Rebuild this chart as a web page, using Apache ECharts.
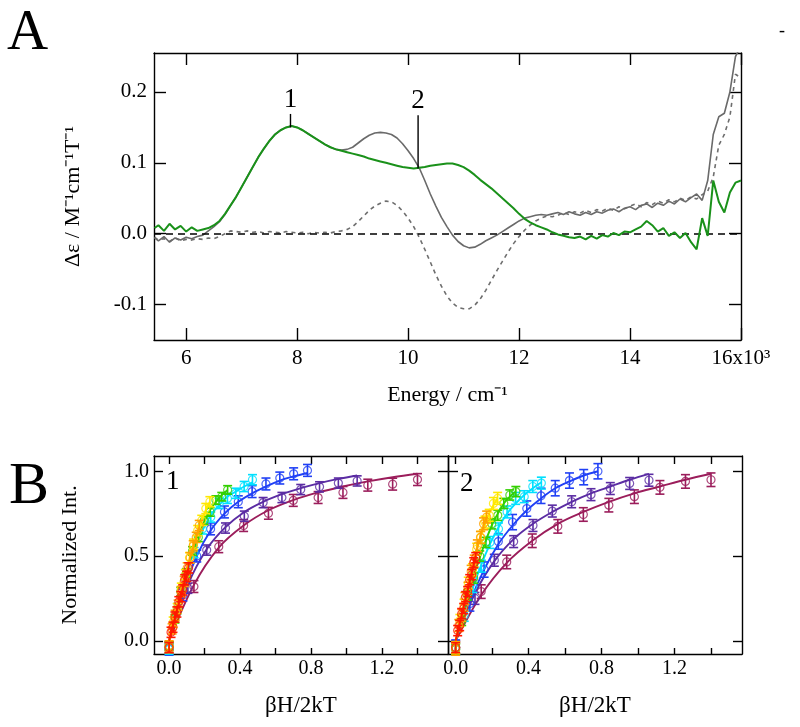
<!DOCTYPE html>
<html><head><meta charset="utf-8">
<script src="https://cdn.jsdelivr.net/npm/echarts@6/dist/echarts.min.js"></script>
<style>html,body{margin:0;padding:0;background:#fff}#c{width:800px;height:727px}</style>
</head><body><div id="c"></div>
<script>
// ---------- Panel A data (energy in 10^3 cm^-1) ----------
const energy = [5.43,5.5,5.6,5.7,5.8,5.9,6.0,6.1,6.2,6.3,6.4,6.5,6.6,6.7,6.8,6.9,7.0,7.1,7.2,7.3,7.4,7.5,7.6,7.7,7.8,7.9,8.0,8.1,8.2,8.3,8.4,8.5,8.6,8.7,8.8,8.9,9.0,9.1,9.2,9.3,9.4,9.5,9.6,9.7,9.8,9.9,10.0,10.1,10.2,10.3,10.4,10.5,10.6,10.7,10.8,10.9,11.0,11.1,11.2,11.3,11.4,11.5,11.6,11.7,11.8,11.9,12.0,12.1,12.2,12.3,12.4,12.5,12.6,12.7,12.8,12.9,13.0,13.1,13.2,13.3,13.4,13.5,13.6,13.7,13.8,13.9,14.0,14.1,14.2,14.3,14.4,14.5,14.6,14.7,14.8,14.9,15.0,15.1,15.2,15.3,15.4,15.5,15.6,15.7,15.8,15.9,16.0];
const greenMCD = [0.008,0.012,0.004,0.014,0.006,0.011,0.003,0.009,0.004,0.006,
 0.008,0.012,0.018,0.028,0.040,0.052,0.066,0.080,0.094,0.108,
 0.120,0.131,0.140,0.146,0.150,0.152,0.150,0.146,0.141,0.136,
 0.131,0.126,0.122,0.119,0.117,0.115,0.113,0.111,0.109,0.106,
 0.104,0.102,0.100,0.098,0.096,0.094,0.093,0.092,0.093,0.094,
 0.096,0.097,0.098,0.099,0.099,0.097,0.094,0.089,0.083,0.076,
 0.070,0.064,0.057,0.050,0.043,0.036,0.028,0.021,0.016,0.012,
 0.009,0.006,0.002,-0.001,-0.003,-0.005,-0.006,-0.004,-0.008,-0.003,
 -0.007,-0.002,-0.004,0.001,-0.002,0.003,0.002,0.006,0.010,0.018,
 0.012,0.003,0.008,-0.003,0.002,-0.006,0.001,-0.012,-0.022,0.022,
 -0.003,0.075,0.045,0.030,0.058,0.072,0.075];
const graySolid = [-0.006,-0.010,-0.004,-0.012,-0.006,-0.009,-0.005,-0.007,-0.004,-0.002,
 0.004,0.010,0.017,0.027,0.040,0.052,0.066,0.080,0.094,0.108,
 0.120,0.131,0.140,0.146,0.150,0.152,0.150,0.146,0.141,0.136,
 0.131,0.126,0.122,0.119,0.118,0.119,0.122,0.128,0.134,0.139,
 0.142,0.143,0.142,0.140,0.135,0.127,0.117,0.106,0.093,0.075,
 0.056,0.039,0.023,0.010,-0.002,-0.011,-0.017,-0.020,-0.019,-0.015,
 -0.010,-0.006,-0.002,0.003,0.008,0.013,0.018,0.022,0.024,0.026,
 0.027,0.026,0.028,0.030,0.027,0.031,0.028,0.026,0.030,0.027,
 0.031,0.029,0.033,0.035,0.031,0.036,0.038,0.034,0.040,0.042,
 0.037,0.043,0.040,0.046,0.042,0.049,0.045,0.051,0.056,0.047,
 0.075,0.140,0.165,0.170,0.200,0.250,0.265];
const grayDashed = [-0.005,-0.009,-0.007,-0.011,-0.006,-0.010,-0.008,-0.009,-0.007,-0.008,
 -0.006,-0.007,-0.004,0.000,0.004,0.003,0.002,0.004,0.002,0.003,
 0.001,0.003,0.002,0.001,0.003,0.002,0.001,0.002,0.000,0.002,
 0.001,0.002,0.001,0.003,0.004,0.006,0.010,0.017,0.025,0.033,
 0.039,0.043,0.046,0.045,0.040,0.032,0.022,0.010,-0.005,-0.022,
 -0.040,-0.058,-0.074,-0.088,-0.098,-0.104,-0.106,-0.106,-0.101,-0.092,
 -0.080,-0.066,-0.052,-0.039,-0.026,-0.014,-0.004,0.005,0.012,0.018,
 0.022,0.025,0.024,0.026,0.030,0.027,0.031,0.029,0.033,0.030,
 0.034,0.032,0.036,0.033,0.038,0.035,0.039,0.042,0.038,0.044,
 0.041,0.046,0.043,0.048,0.045,0.050,0.047,0.052,0.049,0.055,
 0.060,0.080,0.125,0.140,0.165,0.225,0.220];
const annotEnergy = [7.88, 10.18];
const annotLow = [0.150, 0.092];
const annotHigh = [0.169, 0.167];
const annotText = ['1', '2'];
const energyTicks = [6, 8, 10, 12, 14, 16];
const mcdTicks = [-0.1, 0.0, 0.1, 0.2];

// ---------- Panel B data (betaH/2kT vs normalized intensity) ----------
const bTicks = [0, 0.2, 0.4, 0.6, 0.8, 1.0, 1.2, 1.4];
const bLabels = [0, 0.4, 0.8, 1.2];
const intTicks = [0, 0.5, 1.0];

const xMaroon = [0,0.14,0.28,0.42,0.56,0.70,0.84,0.98,1.12,1.26,1.40];
const xPurple = [0,0.106,0.212,0.318,0.424,0.53,0.636,0.742,0.848,0.954,1.06];
const xBlue   = [0,0.078,0.156,0.234,0.312,0.39,0.468,0.546,0.624,0.702,0.78];
const xCyan   = [0,0.047,0.094,0.141,0.188,0.235,0.282,0.329,0.376,0.423,0.47];
const xGreen  = [0,0.033,0.066,0.099,0.132,0.165,0.198,0.231,0.264,0.297,0.33];
const xYellow = [0,0.023,0.046,0.069,0.092,0.115,0.138,0.161,0.184,0.207,0.23];
const xOrange = [0,0.017,0.034,0.051,0.068,0.085,0.102,0.119,0.136,0.153,0.17];
const xRed    = [0,0.011,0.022,0.033,0.044,0.055,0.066,0.077,0.088,0.099,0.11];

// band 1
const b1MaroonPts = [-0.04,0.32,0.555,0.68,0.752,0.828,0.845,0.875,0.918,0.924,0.951];
const b1MaroonFit = [0,0.33,0.55,0.68,0.77,0.83,0.875,0.91,0.94,0.965,0.985];
const b1PurplePts = [-0.04,0.31,0.535,0.665,0.735,0.815,0.845,0.892,0.908,0.93,0.943];
const b1PurpleFit = [0,0.33,0.54,0.67,0.76,0.82,0.865,0.90,0.93,0.955,0.975];
const b1BluePts   = [-0.05,0.27,0.50,0.66,0.76,0.82,0.88,0.925,0.96,0.985,1.005];
const b1BlueFit   = [0,0.29,0.50,0.65,0.75,0.82,0.87,0.91,0.945,0.97,0.99];
const b1CyanPts   = [-0.05,0.19,0.39,0.52,0.66,0.73,0.81,0.84,0.87,0.91,0.95];
const b1CyanFit   = [0,0.20,0.38,0.53,0.65,0.74,0.80,0.85,0.88,0.91,0.935];
const b1GreenPts  = [-0.03,0.13,0.29,0.40,0.53,0.61,0.71,0.76,0.83,0.85,0.89];
const b1GreenFit  = [0,0.14,0.28,0.41,0.52,0.62,0.70,0.77,0.82,0.86,0.89];
const b1YellowPts = [-0.04,0.11,0.19,0.31,0.39,0.49,0.57,0.65,0.71,0.78,0.82];
const b1YellowFit = [0,0.10,0.20,0.30,0.39,0.48,0.57,0.64,0.71,0.77,0.82];
const b1OrangePts = [-0.03,0.07,0.15,0.21,0.29,0.35,0.43,0.49,0.56,0.61,0.68];
const b1OrangeFit = [0,0.07,0.145,0.22,0.29,0.36,0.43,0.49,0.55,0.61,0.67];
const b1RedPts    = [-0.04,0.05,0.08,0.14,0.17,0.23,0.26,0.30,0.36,0.38,0.43];
const b1RedFit    = [0,0.045,0.09,0.135,0.18,0.22,0.265,0.31,0.35,0.39,0.43];
const b1Err = [0.035,0.03,0.035,0.03,0.025,0.03,0.03,0.03];

// band 2
const b2MaroonPts = [-0.04,0.29,0.465,0.59,0.675,0.745,0.80,0.85,0.905,0.94,0.95];
const b2MaroonFit = [0,0.27,0.46,0.59,0.69,0.76,0.82,0.87,0.91,0.95,0.985];
const b2PurplePts = [-0.04,0.25,0.475,0.585,0.68,0.765,0.82,0.862,0.898,0.928,0.947];
const b2PurpleFit = [0,0.28,0.47,0.60,0.69,0.76,0.82,0.87,0.91,0.95,0.985];
const b2BluePts   = [-0.04,0.22,0.42,0.585,0.70,0.78,0.855,0.90,0.945,0.965,1.0];
const b2BlueFit   = [0,0.23,0.42,0.57,0.68,0.77,0.84,0.90,0.94,0.975,1.0];
const b2CyanPts   = [-0.05,0.15,0.32,0.44,0.58,0.66,0.76,0.84,0.85,0.91,0.93];
const b2CyanFit   = [0,0.16,0.31,0.45,0.57,0.67,0.75,0.81,0.86,0.90,0.935];
const b2GreenPts  = [-0.05,0.12,0.27,0.37,0.50,0.58,0.69,0.74,0.81,0.86,0.88];
const b2GreenFit  = [0,0.13,0.26,0.38,0.49,0.59,0.68,0.75,0.81,0.85,0.88];
const b2YellowPts = [-0.04,0.12,0.21,0.34,0.42,0.54,0.61,0.70,0.74,0.81,0.84];
const b2YellowFit = [0,0.11,0.22,0.33,0.43,0.53,0.62,0.69,0.75,0.80,0.84];
const b2OrangePts = [-0.05,0.09,0.15,0.25,0.31,0.41,0.47,0.56,0.61,0.69,0.73];
const b2OrangeFit = [0,0.08,0.16,0.24,0.32,0.40,0.48,0.55,0.62,0.68,0.73];
const b2RedPts    = [-0.04,0.06,0.09,0.16,0.19,0.26,0.29,0.36,0.39,0.46,0.49];
const b2RedFit    = [0,0.05,0.10,0.15,0.20,0.25,0.30,0.35,0.40,0.45,0.50];
const b2Err = [0.04,0.035,0.045,0.035,0.03,0.035,0.035,0.03];

// ---------- styling ----------
const FONT = "'Liberation Serif','Times New Roman',serif";
const bColors = ['#9b1d5b','#5b2ca3','#2040f5','#00e0ff','#33d000','#ffe800','#ffa000','#ff1800'];
const bX = [xMaroon,xPurple,xBlue,xCyan,xGreen,xYellow,xOrange,xRed];
const b1Pts = [b1MaroonPts,b1PurplePts,b1BluePts,b1CyanPts,b1GreenPts,b1YellowPts,b1OrangePts,b1RedPts];
const b1Fit = [b1MaroonFit,b1PurpleFit,b1BlueFit,b1CyanFit,b1GreenFit,b1YellowFit,b1OrangeFit,b1RedFit];
const b2Pts = [b2MaroonPts,b2PurplePts,b2BluePts,b2CyanPts,b2GreenPts,b2YellowPts,b2OrangePts,b2RedPts];
const b2Fit = [b2MaroonFit,b2PurpleFit,b2BlueFit,b2CyanFit,b2GreenFit,b2YellowFit,b2OrangeFit,b2RedFit];

function ax(o) {
  return {
    type: 'value', gridIndex: o.grid, position: o.pos, min: o.min, max: o.max,
    axisLine: { show: true, onZero: false, lineStyle: { color: '#000', width: 1.4 } },
    axisTick: { show: true, inside: true, length: o.tickLen, customValues: o.ticks, lineStyle: { color: '#000', width: 1.4 } },
    axisLabel: o.labels ? { show: true, customValues: o.labels, formatter: o.fmt, color: '#000', fontFamily: FONT, fontSize: o.fs, margin: o.margin } : { show: false },
    splitLine: { show: false },
    name: o.name || '', nameLocation: 'middle', nameGap: o.nameGap || 0,
    nameTextStyle: { color: '#000', fontFamily: FONT, fontSize: o.nameSize || 22 }
  };
}
const f1 = v => v.toFixed(1);
const fE = v => (v === 16 ? '16x10\u00B3' : String(v));

const xAxes = [
  ax({grid:0,pos:'bottom',min:5.42,max:16,ticks:energyTicks,labels:energyTicks,fmt:fE,tickLen:12,fs:21,margin:8,name:'Energy / cm\u207B\u00B9',nameGap:44,nameSize:22}),
  ax({grid:0,pos:'top',min:5.42,max:16,ticks:energyTicks,tickLen:12}),
  ax({grid:1,pos:'bottom',min:-0.085,max:1.572,ticks:bTicks,labels:bLabels,fmt:f1,tickLen:6,fs:20,margin:5,name:'\u03B2H/2kT',nameGap:40,nameSize:23}),
  ax({grid:1,pos:'top',min:-0.085,max:1.572,ticks:bTicks,tickLen:8}),
  ax({grid:2,pos:'bottom',min:-0.042,max:1.57,ticks:bTicks,labels:bLabels,fmt:f1,tickLen:6,fs:20,margin:5,name:'\u03B2H/2kT',nameGap:40,nameSize:23}),
  ax({grid:2,pos:'top',min:-0.042,max:1.57,ticks:bTicks,tickLen:8})
];
const yAxes = [
  ax({grid:0,pos:'left',min:-0.15,max:0.255,ticks:mcdTicks,labels:mcdTicks,fmt:f1,tickLen:12,fs:21,margin:7,name:'\u0394\u03B5 / M\u207B\u00B9cm\u207B\u00B9T\u207B\u00B9',nameGap:70,nameSize:22}),
  ax({grid:0,pos:'right',min:-0.15,max:0.255,ticks:mcdTicks,tickLen:12}),
  ax({grid:1,pos:'left',min:-0.078,max:1.09,ticks:intTicks,labels:intTicks,fmt:f1,tickLen:9,fs:20,margin:5,name:'Normalized Int.',nameGap:73,nameSize:22}),
  ax({grid:1,pos:'right',min:-0.078,max:1.09,ticks:intTicks,tickLen:10}),
  ax({grid:2,pos:'left',min:-0.078,max:1.09,ticks:intTicks,tickLen:10}),
  ax({grid:2,pos:'right',min:-0.078,max:1.09,ticks:intTicks,tickLen:9})
];

const series = [];
function pairs(xs, ys) { return xs.map((x, i) => [x, ys[i]]); }
series.push({ type:'line', xAxisIndex:0, yAxisIndex:0, data: pairs(energy, grayDashed), symbol:'none',
  lineStyle:{ color:'#6e6e6e', width:1.6, type:[4,4] }, z:2 });
series.push({ type:'line', xAxisIndex:0, yAxisIndex:0, data: pairs(energy, graySolid), symbol:'none',
  lineStyle:{ color:'#6a6a6a', width:1.6 }, z:3 });
series.push({ type:'line', xAxisIndex:0, yAxisIndex:0, data: [], symbol:'none', z:4,
  markLine:{ silent:true, symbol:'none', label:{show:false}, animation:false,
    lineStyle:{ color:'#000', type:[7,5], width:1.5 }, data:[{ yAxis: 0 }] } });
series.push({ type:'line', xAxisIndex:0, yAxisIndex:0, data: pairs(energy, greenMCD), symbol:'none',
  lineStyle:{ color:'#1a911a', width:2 }, z:5 });
series.push({ type:'custom', xAxisIndex:0, yAxisIndex:0, z:6, silent:true,
  data: annotEnergy.map((e, i) => [e, annotLow[i], annotHigh[i], i]),
  renderItem: (p, api) => {
    const e = api.value(0);
    const a = api.coord([e, api.value(1)]), b = api.coord([e, api.value(2)]);
    return { type:'group', children:[
      { type:'line', shape:{ x1:a[0], y1:a[1], x2:b[0], y2:b[1] }, style:{ stroke:'#000', lineWidth:1.4 } },
      { type:'text', x:b[0], y:b[1] - 1, style:{ text: annotText[api.value(3)], fill:'#000', font:'27px ' + FONT, align:'center', verticalAlign:'bottom' } }
    ]};
  } });

function addPanel(axIdx, ptsArr, fitArr, errArr) {
  for (let i = 0; i < bColors.length; i++) {
    const c = bColors[i], xs = bX[i], e = errArr[i];
    series.push({ type:'line', xAxisIndex:axIdx, yAxisIndex:axIdx, data: pairs(xs, fitArr[i]), symbol:'none', smooth:0.35,
      lineStyle:{ color:c, width:1.9 }, z:10 + i * 3 });
    series.push({ type:'custom', xAxisIndex:axIdx, yAxisIndex:axIdx, silent:true, z:11 + i * 3,
      data: xs.map((x, j) => [x, ptsArr[i][j], e]),
      renderItem: (p, api) => {
        const x = api.value(0), y = api.value(1), er = api.value(2);
        const lo = api.coord([x, y - er]), hi = api.coord([x, y + er]);
        const w = 4.5, st = { stroke:c, lineWidth:1.6 };
        return { type:'group', children:[
          { type:'line', shape:{ x1:lo[0], y1:lo[1], x2:hi[0], y2:hi[1] }, style:st },
          { type:'line', shape:{ x1:lo[0]-w, y1:lo[1], x2:lo[0]+w, y2:lo[1] }, style:st },
          { type:'line', shape:{ x1:hi[0]-w, y1:hi[1], x2:hi[0]+w, y2:hi[1] }, style:st }
        ]};
      } });
    series.push({ type:'scatter', xAxisIndex:axIdx, yAxisIndex:axIdx, data: pairs(xs, ptsArr[i]), symbol:'circle', symbolSize:8,
      itemStyle:{ color:'rgba(0,0,0,0)', borderColor:c, borderWidth:1.2 }, z:12 + i * 3 });
  }
}
addPanel(2, b1Pts, b1Fit, b1Err);
addPanel(4, b2Pts, b2Fit, b2Err);

const option = {
  animation: false,
  backgroundColor: '#fff',
  grid: [
    { left:154, top:53, width:587, height:287 },
    { left:154, top:456, width:294, height:198 },
    { left:448, top:456, width:294, height:198 }
  ],
  xAxis: xAxes,
  yAxis: yAxes,
  series: series,
  graphic: [
    { type:'text', left:7, top:6, style:{ text:'A', font:'57px ' + FONT, fill:'#000' } },
    { type:'text', left:9, top:457, style:{ text:'B', font:'60px ' + FONT, fill:'#000' } },
    { type:'text', left:779, top:22, style:{ text:'-', font:'18px ' + FONT, fill:'#000' } },
    { type:'text', left:166, top:468, style:{ text:'1', font:'27px ' + FONT, fill:'#000' } },
    { type:'text', left:460, top:470, style:{ text:'2', font:'27px ' + FONT, fill:'#000' } }
  ]
};
const chart = echarts.init(document.getElementById('c'), null, { renderer:'canvas' });
chart.setOption(option);
</script></body></html>
